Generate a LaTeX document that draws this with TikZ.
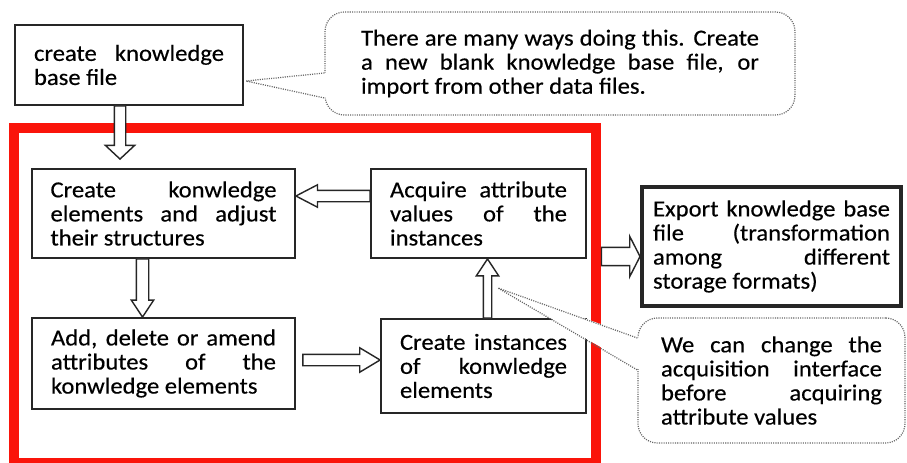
\documentclass[tikz,border=0pt]{standalone}
\usepackage{fontspec}
\setmainfont{Carlito}[FakeStretch=1.07,FakeBold=0.4]
\usepackage{tikz}
\usetikzlibrary{calc,shapes.arrows}

\definecolor{framered}{RGB}{250,20,10}
\definecolor{boxline}{RGB}{38,38,38}

% hollow block arrow: [size] {name} {from} {to}
\newcommand{\hollowarrow}[4][]{%
  \path let \p1=($(#4)-(#3)$), \n1={atan2(\y1,\x1)}, \n2={veclen(\x1,\y1)} in
    node[hollow, #1, anchor=tail, rotate=\n1, minimum height=\n2] (#2) at (#3) {};%
}

\begin{document}
\begin{tikzpicture}[x=0.02cm, y=-0.02cm,
    every node/.style={font={\fontsize{13.1}{13.7}\selectfont\tolerance=10000\hyphenpenalty=10000}, text=black},
    stepbox/.style={draw=boxline, line width=1.1pt, inner sep=0pt, align=justify},
    note/.style={draw=gray!80!black, line width=0.7pt, dash pattern=on 0.6pt off 0.7pt,
        fill=white, rounded corners=11pt, inner sep=0pt, align=justify},
    notetail/.style={draw=gray!80!black, line width=0.7pt, dash pattern=on 0.6pt off 0.7pt},
    hollow/.style={single arrow, draw=boxline, line width=0.8pt, fill=white,
        inner sep=0pt, outer sep=0pt, single arrow head indent=0pt},
    % half shaft width, head extend, tip angle
    arrowsize/.style n args={3}{inner ysep=#1, single arrow head extend=#2, single arrow tip angle=#3}]
    %%Background
    \useasboundingbox (0,0) rectangle (907,463);

    %%Red frame
    \node[draw=framered, line width=5.7pt, minimum width=11.65cm, minimum height=6.71cm, inner sep=0pt] (frame) at (305.25,295.25) {};

    %%Boxes
    \node[stepbox, minimum width=4.56cm, minimum height=1.6cm, text width=3.8cm] (kb) at (129,65)
        {create knowledge\linebreak base file};
    \node[stepbox, minimum width=5.26cm, minimum height=1.78cm, text width=4.52cm] (elem) at (163.5,213.5)
        {Create konwledge\linebreak elements and adjust\linebreak their structures};
    \node[stepbox, minimum width=4.3cm, minimum height=1.78cm, text width=3.54cm] (acquire) at (478.5,213.5)
        {Acquire attribute\linebreak values of the\linebreak instances};
    \node[stepbox, minimum width=5.26cm, minimum height=1.82cm, text width=4.5cm] (attr) at (163.5,363.5)
        {Add, delete or amend\linebreak attributes of the\linebreak konwledge elements};
    \node[stepbox, minimum width=4.1cm, minimum height=1.88cm, text width=3.34cm] (inst) at (483.5,366)
        {Create instances\linebreak of konwledge\linebreak elements};
    \node[stepbox, line width=2.3pt, minimum width=5.18cm, minimum height=2.38cm, text width=4.74cm] (export) at (771.5,246.5)
        {Export knowledge base\linebreak file (transformation\linebreak among different\linebreak storage formats)};

    %%Notes
    \node[note, minimum width=9.4cm, minimum height=2.06cm, text width=7.96cm] (note1) at (560,63.5)
        {There are many ways doing this. Create\linebreak a new blank knowledge base file, or\linebreak import from other data files.};
    \node[note, minimum width=5.34cm, minimum height=2.5cm, text width=4.42cm] (note2) at (771.5,380.5)
        {We can change the\linebreak acquisition interface\linebreak before acquiring\linebreak attribute values};

    \coordinate (tip1) at (246,81);
    \coordinate (tip2) at (498,288);
    \fill[white] (tip1) -- ([xshift=0.06cm,yshift=-0.19cm]note1.west) -- ([xshift=0.06cm,yshift=-0.69cm]note1.west) -- cycle;
    \draw[notetail] ([yshift=-0.19cm]note1.west) -- (tip1) -- ([yshift=-0.69cm]note1.west);
    \fill[white] (tip2) -- ([xshift=0.06cm,yshift=0.85cm]note2.west) -- ([xshift=0.06cm,yshift=0.21cm]note2.west) -- cycle;
    \draw[notetail] ([yshift=0.85cm]note2.west) -- (tip2) -- ([yshift=0.21cm]note2.west);

    %%Arrows
    \coordinate (exp-in) at ([yshift=-0.2cm]export.west);
    \hollowarrow[arrowsize={0.1cm}{0.18cm}{94}]{a1}{[xshift=-0.18cm]kb.south}{[xshift=-0.87cm,yshift=0.18cm]elem.north}
    \hollowarrow[arrowsize={0.1cm}{0.11cm}{55}]{a2}{[yshift=0.35cm]acquire.west}{[yshift=0.35cm]elem.east}
    \hollowarrow[arrowsize={0.11cm}{0.1cm}{67}]{a3}{[xshift=-0.42cm]elem.south}{[xshift=-0.42cm]attr.north}
    \hollowarrow[arrowsize={0.1cm}{0.13cm}{62}]{a4}{[xshift=0.14cm,yshift=0.07cm]attr.east}{[yshift=0.12cm]inst.west}
    \hollowarrow[arrowsize={0.07cm}{0.14cm}{67}]{a5}{[xshift=0.08cm]inst.north}{[xshift=0.18cm]acquire.south}
    \hollowarrow[arrowsize={0.17cm}{0.22cm}{126}]{a6}{frame.east |- exp-in}{exp-in}

\end{tikzpicture}
\end{document}
